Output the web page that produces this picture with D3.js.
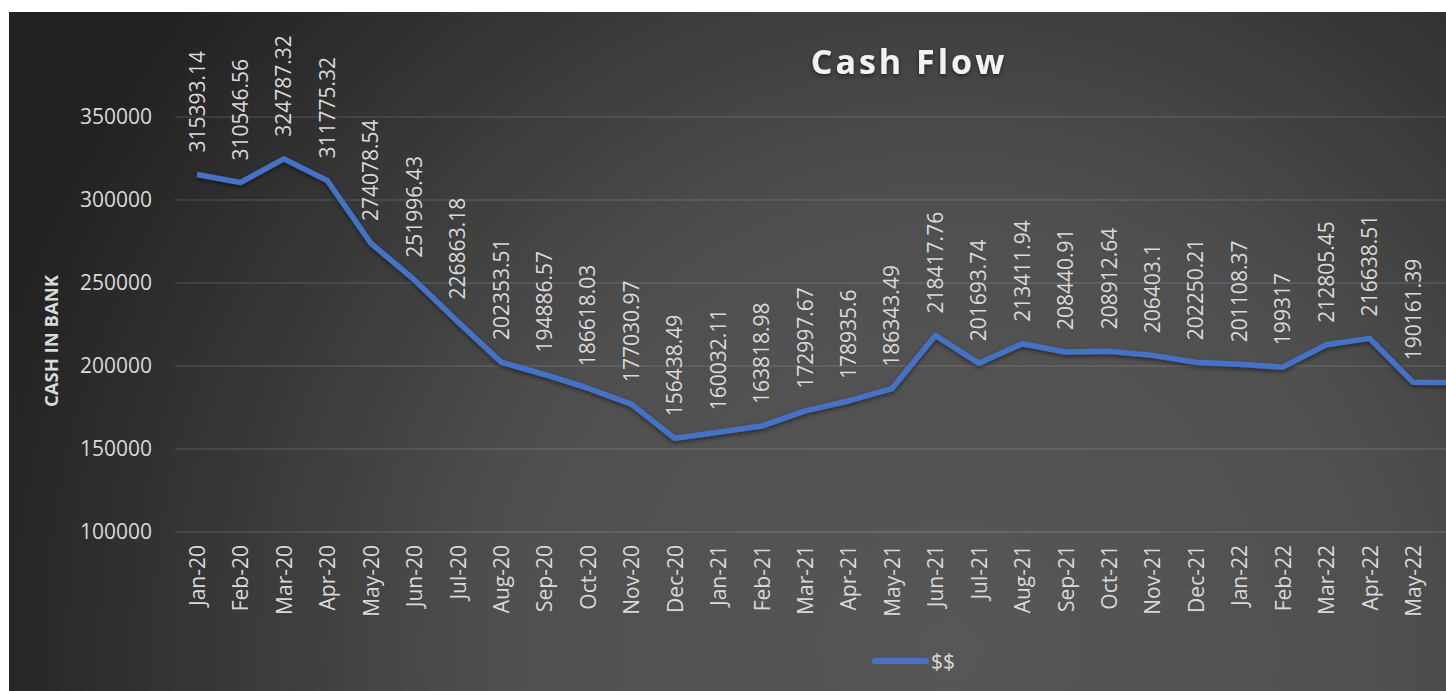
<!DOCTYPE html>
<html>
<head>
<meta charset="utf-8">
<script src="https://cdn.jsdelivr.net/npm/d3@7"></script>
<style>
  body { margin: 0; background: #fff; }
  svg { display: block; font-family: "Open Sans", sans-serif; }
</style>
</head>
<body>
<div class="chart"></div>
<script>
// Months on the x axis
const months = ["Jan-20","Feb-20","Mar-20","Apr-20","May-20","Jun-20","Jul-20","Aug-20","Sep-20","Oct-20","Nov-20","Dec-20",
  "Jan-21","Feb-21","Mar-21","Apr-21","May-21","Jun-21","Jul-21","Aug-21","Sep-21","Oct-21","Nov-21","Dec-21",
  "Jan-22","Feb-22","Mar-22","Apr-22","May-22","Jun-22"]

// Cash in bank ($$)
const cash = [315393.14, 310546.56, 324787.32, 311775.32, 274078.54, 251996.43, 226863.18, 202353.51, 194886.57, 186618.03,
  177030.97, 156438.49, 160032.11, 163818.98, 172997.67, 178935.6, 186343.49, 218417.76, 201693.74, 213411.94,
  208440.91, 208912.64, 206403.1, 202250.21, 201108.37, 199317, 212805.45, 216638.51, 190161.39, 190050]

const yTicks = [100000, 150000, 200000, 250000, 300000, 350000]

const W = 1446, H = 691
const data = months.map((m, i) => ({month: m, value: cash[i]}))

const svg = d3.select('.chart').append('svg')
    .attr("width", W)
    .attr("height", H)

const defs = svg.append("defs")

// Background gradient
const grad = defs.append("radialGradient")
    .attr("id", "bg")
    .attr("gradientUnits", "userSpaceOnUse")
    .attr("cx", 950).attr("cy", 650).attr("r", 1000)
grad.append("stop").attr("offset", 0).attr("stop-color", "#575757")
grad.append("stop").attr("offset", 0.45).attr("stop-color", "#4f4f4f")
grad.append("stop").attr("offset", 1).attr("stop-color", "#222222")

const shadow = defs.append("filter").attr("id", "shadow")
    .attr("x", "-10%").attr("y", "-10%").attr("width", "120%").attr("height", "130%")
shadow.append("feDropShadow")
    .attr("dx", 0).attr("dy", 2).attr("stdDeviation", 2)
    .attr("flood-color", "#000").attr("flood-opacity", 0.5)

defs.append("clipPath").attr("id", "clip")
  .append("rect").attr("x", 9).attr("y", 12).attr("width", W - 9).attr("height", H - 12)

const g = svg.append("g").attr("clip-path", "url(#clip)")

g.append("rect")
    .attr("x", 9).attr("y", 12)
    .attr("width", W - 9).attr("height", H - 12)
    .attr("fill", "url(#bg)")

// Scales
const xScale = d3.scalePoint()
    .domain(months)
    .range([197, 197 + 43.43 * (months.length - 1)])

const yScale = d3.scaleLinear()
    .domain([100000, 400000])
    .range([532, 34])

// only months whose labels fit inside the frame get labels
const inView = d => xScale(d) + 10 < W

// Gridlines
g.selectAll(".grid")
    .data(yTicks)
    .enter()
    .append("line")
        .attr("x1", 175)
        .attr("x2", W)
        .attr("y1", d => yScale(d))
        .attr("y2", d => yScale(d))
        .attr("stroke", "#ffffff")
        .attr("stroke-opacity", 0.12)
        .attr("stroke-width", 1.5)

// Y axis
const yAxis = d3.axisLeft(yScale)
    .tickValues(yTicks)
    .tickFormat(d => d)
    .tickSize(0)
    .tickPadding(0)
const yg = g.append("g")
    .attr("transform", "translate(152,0)")
    .call(yAxis)
yg.select(".domain").remove()
yg.selectAll("text")
    .attr("fill", "#d9d9d9")
    .style("font-size", "21px")
    .style("font-family", "Open Sans")

// X axis
const xAxis = d3.axisBottom(xScale)
    .tickValues(months.filter(inView))
    .tickSize(0).tickPadding(0)
const xg = g.append("g")
    .attr("transform", "translate(0,545)")
    .call(xAxis)
xg.select(".domain").remove()
xg.selectAll("text")
    .attr("fill", "#d9d9d9")
    .style("font-size", "21px")
    .style("font-family", "Open Sans")
    .attr("text-anchor", "end")
    .attr("dy", 0)
    .attr("y", 0)
    .attr("transform", "translate(7.5,0) rotate(-90)")

// Line
const line = d3.line()
    .x(d => xScale(d.month))
    .y(d => yScale(d.value))

g.append("path")
    .datum(data)
    .attr("d", line)
    .attr("fill", "none")
    .attr("stroke", "#4472c4")
    .attr("stroke-width", 5.5)
    .attr("stroke-linejoin", "round")
    .attr("filter", "url(#shadow)")

// Data labels
g.selectAll(".dlabel")
    .data(data.filter(d => inView(d.month)))
    .enter()
    .append("text")
        .attr("class", "dlabel")
        .attr("transform", d => `translate(${xScale(d.month) + 7.5},${yScale(d.value) - 22}) rotate(-90)`)
        .attr("fill", "#d9d9d9")
        .style("font-size", "21px")
        .text(d => d.value)

// Title
g.append("text")
    .attr("x", 909)
    .attr("y", 74)
    .attr("text-anchor", "middle")
    .attr("fill", "#f2f2f2")
    .style("font-size", "34px")
    .style("font-weight", "bold")
    .style("letter-spacing", "3px")
    .attr("filter", "url(#shadow)")
    .text("Cash Flow")

// Y-axis title
g.append("text")
    .attr("transform", "translate(58,341) rotate(-90)")
    .attr("text-anchor", "middle")
    .attr("fill", "#d9d9d9")
    .style("font-size", "18.5px")
    .style("font-weight", "bold")
    .text("CASH IN BANK")

// Legend
const legend = g.append("g").attr("transform", "translate(872,661)")
legend.append("line")
    .attr("x1", 3).attr("x2", 54)
    .attr("stroke", "#4472c4")
    .attr("stroke-width", 6)
    .attr("stroke-linecap", "round")
legend.append("text")
    .attr("x", 59)
    .attr("y", 8)
    .attr("fill", "#d9d9d9")
    .style("font-size", "21px")
    .text("$$")
</script>
</body>
</html>
